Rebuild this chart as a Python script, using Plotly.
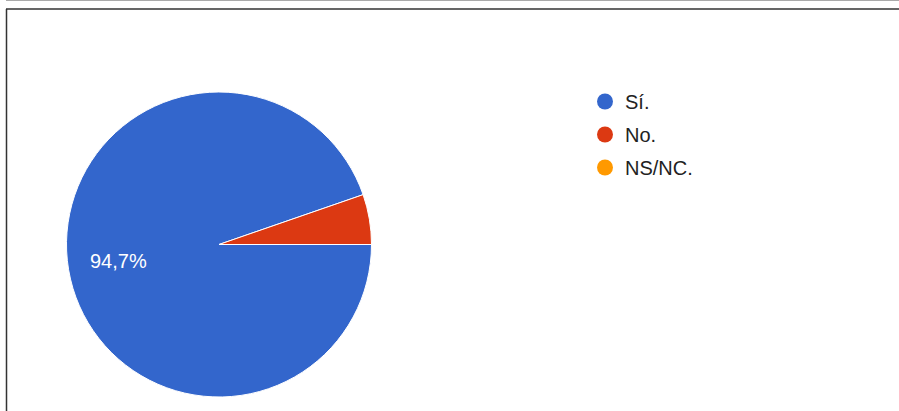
import math
import plotly.graph_objects as go

labels = ["Sí.", "No.", "NS/NC."]
values = [94.7, 5.3, 0.0]
colors = ["#3366cc", "#dc3912", "#ff9900"]
text_labels = ["94,7%", "", ""]

W, H = 899, 411
cx, cy, r = 219, 244.5, 152.5

fig = go.Figure()
fig.add_trace(go.Pie(
    labels=labels, values=values, sort=False, direction="clockwise", rotation=90,
    marker=dict(colors=colors, line=dict(color="white", width=1)),
    textinfo="none",
    showlegend=False, hoverinfo="label+percent",
    domain=dict(x=[(cx - r) / W, (cx + r) / W], y=[(H - cy - r) / H, (H - cy + r) / H]),
))
for lab, col in zip(labels, colors):
    fig.add_trace(go.Scatter(x=[None], y=[None], mode="markers", name=lab,
                             marker=dict(symbol="circle", size=18, color=col),
                             legendgroup=lab, showlegend=True))

# slice label placed at the mid-angle of the slice, ~2/3 of the radius
total = sum(values)
annotations = []
start = 0.0
for v, t in zip(values, text_labels):
    if t:
        mid = math.radians(360 * (start + v / 2) / total)  # clockwise from 3 o'clock
        px = cx + 0.67 * r * math.cos(mid)
        py = cy + 0.67 * r * math.sin(mid)
        annotations.append(dict(x=px / W, y=1 - py / H, xref="paper", yref="paper",
                                xanchor="center", yanchor="middle",
                                text=t, showarrow=False,
                                font=dict(family="Arial, Liberation Sans", size=20, color="white")))
    start += v

fig.update_layout(
    width=W, height=H, margin=dict(l=0, r=0, t=0, b=0),
    paper_bgcolor="white", plot_bgcolor="white",
    xaxis=dict(visible=False), yaxis=dict(visible=False),
    annotations=annotations,
    legend=dict(x=585 / W, y=1 - 82 / H, xanchor="left", yanchor="top",
                font=dict(family="Arial, Liberation Sans", size=20, color="#222222"),
                tracegroupgap=4, itemwidth=30, bgcolor="rgba(0,0,0,0)"),
    shapes=[
        dict(type="line", xref="paper", yref="paper", x0=6 / W, x1=1, y0=1 - 9 / H, y1=1 - 9 / H,
             line=dict(color="#333333", width=1.5)),
        dict(type="line", xref="paper", yref="paper", x0=6.5 / W, x1=6.5 / W, y0=0, y1=1 - 9 / H,
             line=dict(color="#333333", width=1.5)),
        dict(type="line", xref="paper", yref="paper", x0=6 / W, x1=1, y0=1 - 0.5 / H, y1=1 - 0.5 / H,
             line=dict(color="#aaaaaa", width=1)),
    ],
)
fig.write_html("out.html", config={"displayModeBar": False},
               post_script="document.body.style.margin='0';")
